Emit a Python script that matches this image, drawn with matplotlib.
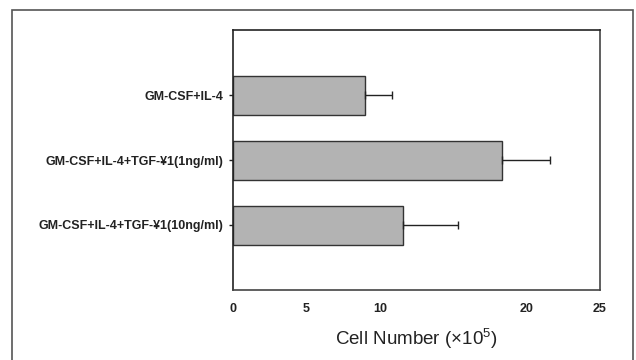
import matplotlib
matplotlib.use("Agg")
import matplotlib.pyplot as plt
from matplotlib.patches import Rectangle

categories = ["GM-CSF+IL-4", "GM-CSF+IL-4+TGF-¥1(1ng/ml)", "GM-CSF+IL-4+TGF-¥1(10ng/ml)"]
values = [9.0, 18.3, 11.6]
errors = [1.8, 3.3, 3.7]
xtick_vals = [0, 5, 10, 20, 25]
xtick_labels = ["0", "5", "10", "20", "25"]

plt.rcParams['font.family'] = ['Liberation Sans', 'DejaVu Sans']
plt.rcParams['mathtext.fontset'] = 'custom'
plt.rcParams['mathtext.rm'] = 'Liberation Sans'
plt.rcParams['mathtext.it'] = 'Liberation Sans'

fig = plt.figure(figsize=(6.36, 3.6), dpi=100)
ax = fig.add_axes([233/636, 1-290/360, (600-233)/636, 260/360])

pos = list(range(len(categories)))
ax.barh(pos, values, height=0.6, color="#b3b3b3", edgecolor="#333333", linewidth=1.0, zorder=2)
ax.errorbar(values, pos, xerr=[[0]*len(errors), errors], fmt="none", ecolor="#222222",
            elinewidth=1.0, capsize=3, capthick=1.0, zorder=3)

ax.set_xlim(0, 25)
ax.set_ylim(3, -1)
ax.set_yticks(pos)
ax.set_yticklabels(categories, fontsize=9, fontweight="bold", color="#222222")
ax.set_xticks(xtick_vals)
ax.set_xticklabels(xtick_labels, fontsize=9, fontweight="bold", color="#222222")
ax.tick_params(axis="x", length=0, pad=9)
ax.tick_params(axis="y", length=3, width=1, pad=4, color="#222222")
for s in ax.spines.values():
    s.set_linewidth(1.2)
    s.set_color("#222222")
ax.spines["bottom"].set_color("#444444")
ax.spines["right"].set_color("#444444")

ax.set_xlabel("Cell Number (×10$^5$)", fontsize=13.5, color="#222222", labelpad=9)

fig.patches.append(Rectangle((12/636, -0.1), (633-12)/636, 1-10/360+0.1,
                             transform=fig.transFigure, fill=False,
                             edgecolor="#555555", linewidth=1.2))

fig.savefig("out.png", dpi=100)
